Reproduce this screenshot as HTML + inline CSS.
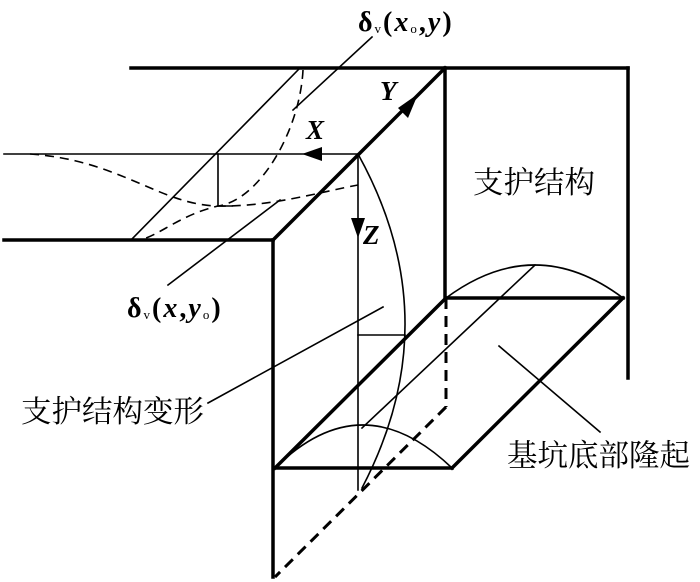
<!DOCTYPE html>
<html><head><meta charset="utf-8"><style>
body{margin:0;background:#fff}
svg{display:block}
.cn{font-family:"Liberation Serif","Noto Serif CJK SC",serif;font-size:30.5px}
.m{font-family:"Liberation Serif",serif;font-size:27px;font-style:italic;font-weight:bold}
</style></head><body>
<svg width="700" height="582" viewBox="0 0 700 582" xmlns="http://www.w3.org/2000/svg">
<g stroke="#000" fill="none" stroke-linecap="square">
<g stroke-width="3.5">
<line x1="131" y1="68" x2="628" y2="68"/>
<line x1="628" y1="68" x2="628" y2="378"/>
<line x1="445" y1="68" x2="445" y2="298"/>
<line x1="445" y1="68" x2="273" y2="240"/>
<line x1="4" y1="240" x2="273" y2="240"/>
<line x1="273" y1="240" x2="273" y2="577"/>
<line x1="446" y1="298" x2="623" y2="298"/>
<line x1="275" y1="468" x2="452" y2="468"/>
<line x1="446" y1="298" x2="275" y2="468"/>
<line x1="623" y1="298" x2="452" y2="468"/>
</g>
<g stroke-width="3" stroke-dasharray="11,7" stroke-linecap="butt">
<line x1="446" y1="298" x2="446" y2="407"/>
<line x1="446" y1="407" x2="275" y2="577"/>
</g>
<g stroke-width="1.6">
<line x1="4" y1="154" x2="358" y2="154"/>
<line x1="300" y1="68" x2="131" y2="240"/>
<polyline points="218,154 218,206 232,206"/>
<line x1="358" y1="154" x2="358" y2="490"/>
<line x1="358" y1="335" x2="405" y2="335"/>
<path d="M358,154 Q450,320 362,488"/>
<line x1="535" y1="265" x2="362" y2="428"/>
<path d="M446,298 Q535,232 623,298"/>
<path d="M275,468 Q362,382 452,468"/>
<line x1="499" y1="346" x2="600" y2="432"/>
<line x1="208" y1="403" x2="383" y2="307"/>
<line x1="372" y1="37" x2="293" y2="110"/>
<line x1="168" y1="285" x2="280" y2="200"/>
</g>
<g stroke-width="1.6" stroke-dasharray="9,6" stroke-linecap="butt">
<path d="M30,154 C120,160 160,205 218,206 C270,207 320,192 358,185"/>
<path d="M303,70 C300,130 260,200 218,206 C180,215 160,235 140,240"/>
</g>
</g>
<polygon points="302,154 322,147 322,161" fill="#000"/>
<polygon points="358,238 351,218 365,218" fill="#000"/>
<polygon points="418,94 398,108 408,118" fill="#000"/>
<text class="m" x="380" y="100">Y</text>
<text class="m" x="306" y="139">X</text>
<text class="m" x="363" y="244">Z</text>
<text class="cn" x="473" y="193">支护结构</text>
<text class="cn" x="21" y="422">支护结构变形</text>
<text class="cn" x="507" y="466">基坑底部隆起</text>
<text x="358" y="31" font-family="Liberation Serif,serif" font-size="28" font-weight="bold" letter-spacing="2"><tspan>δ</tspan><tspan font-size="13" font-weight="normal" dy="2">v</tspan><tspan dy="-2">(</tspan><tspan font-style="italic">x</tspan><tspan font-size="13" font-weight="normal" dy="2">o</tspan><tspan dy="-2">,</tspan><tspan font-style="italic">y</tspan>)</text>
<text x="127" y="317" font-family="Liberation Serif,serif" font-size="28" font-weight="bold" letter-spacing="2"><tspan>δ</tspan><tspan font-size="13" font-weight="normal" dy="2">v</tspan><tspan dy="-2">(</tspan><tspan font-style="italic">x</tspan>,<tspan font-style="italic">y</tspan><tspan font-size="13" font-weight="normal" dy="2">o</tspan><tspan dy="-2">)</tspan></text>
</svg>
</body></html>
